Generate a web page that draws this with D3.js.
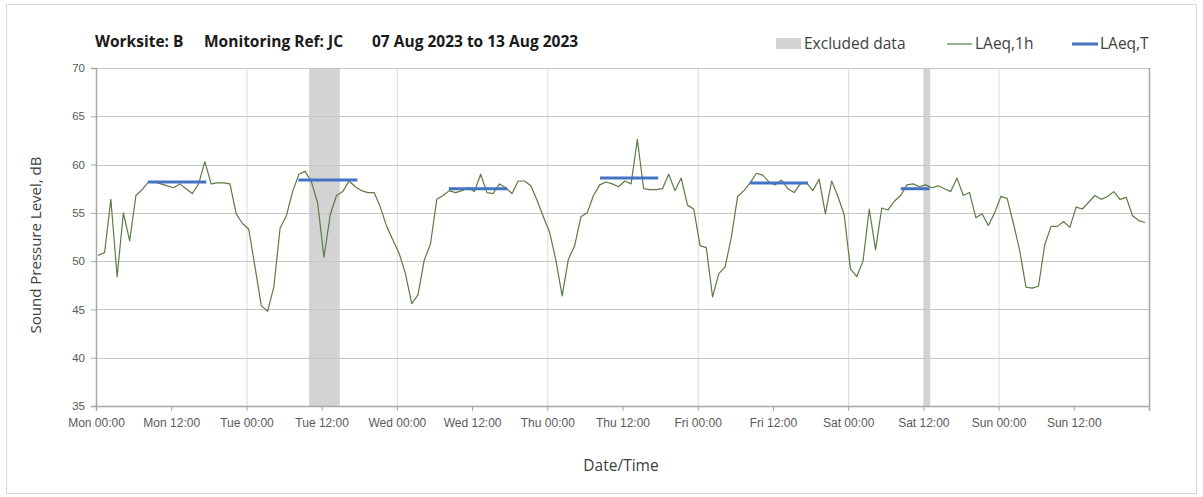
<!DOCTYPE html>
<html><head><meta charset="utf-8">
<script src="https://cdn.jsdelivr.net/npm/d3@7/dist/d3.min.js"></script>
<style>
html,body{margin:0;padding:0;background:#fff;}
svg{display:block;font-family:"Open Sans","Noto Sans",sans-serif;}
</style></head>
<body>
<svg id="chart" width="1203" height="497"></svg>
<script>
// ---- data ----
const titleParts = ["Worksite: B", "Monitoring Ref: JC", "07 Aug 2023 to 13 Aug 2023"];
const xTickLabels = ["Mon 00:00","Mon 12:00","Tue 00:00","Tue 12:00","Wed 00:00","Wed 12:00","Thu 00:00","Thu 12:00","Fri 00:00","Fri 12:00","Sat 00:00","Sat 12:00","Sun 00:00","Sun 12:00"];
const xTickHours = [0,12,24,36,48,60,72,84,96,108,120,132,144,156,168];
const yTicks = [35,40,45,50,55,60,65,70];
// hourly LAeq,1h values, Mon 00:00 .. Sun 23:00
const laeq1h = [
 50.6,50.9,56.4,48.4,55.0,52.1,56.8,57.4,58.2,58.2,58.0,57.8,57.6,58.0,57.5,57.0,58.0,60.3,58.0,58.1,58.1,58.0,54.9,53.9,
 53.3,49.4,45.4,44.8,47.3,53.4,54.7,57.2,59.0,59.3,58.2,56.0,50.4,54.8,56.8,57.2,58.3,57.7,57.3,57.1,57.1,55.6,53.6,52.2,
 50.8,48.7,45.6,46.5,50.1,51.8,56.4,56.8,57.3,57.1,57.3,57.6,57.2,59.0,57.1,57.0,58.0,57.6,57.0,58.3,58.3,57.8,56.3,54.6,
 53.0,50.1,46.4,50.2,51.6,54.6,55.0,56.8,57.9,58.2,58.0,57.7,58.3,58.0,62.6,57.5,57.4,57.4,57.5,59.0,57.3,58.6,55.8,55.4,
 51.6,51.4,46.3,48.7,49.4,52.5,56.7,57.3,58.1,59.1,58.9,58.2,57.9,58.4,57.5,57.1,58.0,58.1,57.3,58.5,54.9,58.3,56.7,54.8,
 49.2,48.4,50.0,55.4,51.2,55.5,55.3,56.2,56.8,57.9,58.0,57.7,57.9,57.6,57.8,57.5,57.2,58.6,56.8,57.1,54.5,54.9,53.7,55.0,
 56.7,56.5,53.9,51.1,47.3,47.2,47.4,51.7,53.6,53.6,54.1,53.5,55.6,55.4,56.1,56.8,56.4,56.7,57.2,56.4,56.6,54.7,54.2,54.0
];
// LAeq,T period values (start hour, end hour, level)
const periodStart = [8.3, 32.3, 56.3, 80.4, 104.3, 128.4];
const periodEnd   = [17.6, 41.7, 65.6, 89.7, 113.6, 133.0];
const periodLevel = [58.2, 58.4, 57.5, 58.6, 58.1, 57.5];
// excluded data intervals (hours)
const excludedStart = [34.0, 132.0];
const excludedEnd   = [38.9, 133.1];
const legendLabels = ["Excluded data", "LAeq,1h", "LAeq,T"];
const axisTitles = {x: "Date/Time", y: "Sound Pressure Level, dB"};

// ---- drawing ----
const svg = d3.select("#chart");
const L = 96, R = 1149, T = 68, B = 406;
const x = d3.scaleLinear().domain([0,168]).range([L,R]);
const y = d3.scaleLinear().domain([35,70]).range([B,T]);
const pointOffset = 0.37;
const gridCol = "#c6c6c6", vGridCol = "#dadada", axisCol = "#a6a6a6", txtCol = "#595959";

// outer frame
svg.append("rect").attr("x",6.5).attr("y",4.5).attr("width",1190).attr("height",489)
  .attr("fill","none").attr("stroke","#d9d9d9");

// excluded bands
svg.append("g").selectAll("rect").data(excludedStart).join("rect")
  .attr("x",(d)=>x(d)).attr("y",T)
  .attr("width",(d,i)=>x(excludedEnd[i])-x(d)).attr("height",B-T)
  .attr("fill","#d3d3d3");

// vertical grid (day boundaries)
svg.append("g").selectAll("line").data(xTickHours.filter(h=>h%24===0 && h>0 && h<168)).join("line")
  .attr("x1",d=>x(d)+0.5).attr("x2",d=>x(d)+0.5).attr("y1",T).attr("y2",B)
  .attr("stroke",vGridCol).attr("stroke-width",1);

// horizontal grid
svg.append("g").selectAll("line").data(yTicks.filter(v=>v>35)).join("line")
  .attr("x1",L).attr("x2",R).attr("y1",d=>Math.round(y(d))+0.5).attr("y2",d=>Math.round(y(d))+0.5)
  .attr("stroke",gridCol).attr("stroke-width",1);

// right border of plot
svg.append("line").attr("x1",R+0.5).attr("x2",R+0.5).attr("y1",T).attr("y2",B)
  .attr("stroke",axisCol).attr("stroke-width",1.5);

// y axis
const yAxis = d3.axisLeft(y).tickValues(yTicks).tickSize(5).tickPadding(6).tickFormat(d3.format("d"));
const gy = svg.append("g").attr("transform",`translate(${L},0)`).call(yAxis);
gy.select(".domain").attr("stroke",axisCol).attr("stroke-width",1.5);
gy.selectAll(".tick line").attr("stroke",axisCol);
gy.selectAll("text").attr("fill",txtCol).style("font-size","11.5px");

// x axis
const xAxis = d3.axisBottom(x).tickValues(xTickHours).tickSize(5).tickPadding(7)
  .tickFormat((d,i)=> xTickLabels[i] || "");
const gx = svg.append("g").attr("transform",`translate(0,${B})`).call(xAxis);
gx.select(".domain").attr("stroke",axisCol).attr("stroke-width",1.5);
gx.selectAll(".tick line").attr("stroke",axisCol);
gx.selectAll("text").attr("fill",txtCol).style("font-size","12px");

// LAeq,1h line
const line = d3.line().x((d,i)=>x(i+pointOffset)).y(d=>y(d));
svg.append("path").datum(laeq1h).attr("d",line)
  .attr("fill","none").attr("stroke","#5b7b43").attr("stroke-width",1.2).attr("stroke-linejoin","round");

// LAeq,T segments
svg.append("g").selectAll("line").data(periodLevel).join("line")
  .attr("x1",(d,i)=>x(periodStart[i])).attr("x2",(d,i)=>x(periodEnd[i]))
  .attr("y1",d=>y(d)).attr("y2",d=>y(d))
  .attr("stroke","#4472c4").attr("stroke-width",3);

// title
const titleX = [95, 204, 372];
svg.append("g").selectAll("text").data(titleParts).join("text")
  .attr("x",(d,i)=>titleX[i]).attr("y",47)
  .attr("font-weight","bold").attr("font-size","15.5px").attr("fill","#1a1a1a").text(d=>d);

// legend
const lg = svg.append("g").attr("font-size","15.5px").attr("fill","#404040");
lg.append("rect").attr("x",776).attr("y",38).attr("width",25).attr("height",11).attr("fill","#d3d3d3");
lg.append("text").attr("x",804).attr("y",49).text(legendLabels[0]);
lg.append("line").attr("x1",947).attr("x2",972).attr("y1",44).attr("y2",44).attr("stroke","#5b7b43").attr("stroke-width",1.2);
lg.append("text").attr("x",975).attr("y",49).text(legendLabels[1]);
lg.append("line").attr("x1",1072).attr("x2",1098).attr("y1",44).attr("y2",44).attr("stroke","#4472c4").attr("stroke-width",3);
lg.append("text").attr("x",1100).attr("y",49).text(legendLabels[2]);

// axis titles
svg.append("text").attr("x",621).attr("y",471).attr("text-anchor","middle")
  .attr("font-size","15.5px").attr("fill","#404040").text(axisTitles.x);
svg.append("text").attr("transform","translate(41,245) rotate(-90)").attr("text-anchor","middle")
  .attr("font-size","15px").attr("fill","#404040").text(axisTitles.y);
</script>
</body></html>
